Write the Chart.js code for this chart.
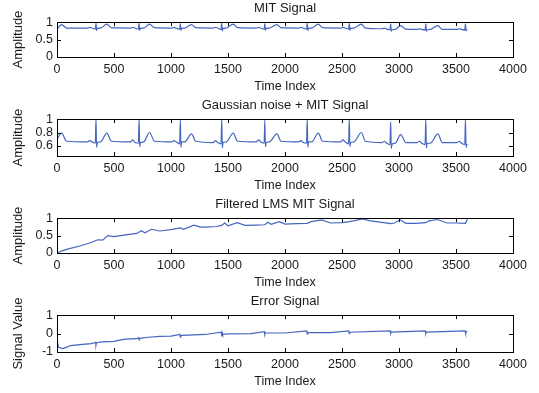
<!DOCTYPE html>
<html>
<head>
<meta charset="utf-8">
<title>LMS filtering of MIT signal</title>
<script src="https://cdn.jsdelivr.net/npm/chart.js@4.4.1/dist/chart.umd.min.js"></script>
<style>
  html, body { margin: 0; padding: 0; background: #fff; }
  #figure { position: relative; width: 539px; height: 393px; overflow: hidden; }
  #figure canvas { position: absolute; left: 0; }
</style>
</head>
<body>
<div id="figure">
  <canvas id="mitChart" width="539" height="97" style="top:0px"></canvas>
  <canvas id="noisyChart" width="539" height="99" style="top:97px"></canvas>
  <canvas id="lmsChart" width="539" height="97" style="top:196px"></canvas>
  <canvas id="errorChart" width="539" height="99" style="top:293px"></canvas>
</div>
<script>
// ---- data ----
const timeTicks = [0, 500, 1000, 1500, 2000, 2500, 3000, 3500, 4000];

// sample indices shared by the clean and the noisy ECG trace
const ecgTime = [0, 40, 85,
  267, 287, 307, 336, 342, 347, 354, 382, 437, 477,
  645, 665, 685, 714, 720, 725, 732, 760, 812, 855,
  1007, 1027, 1047, 1076, 1082, 1087, 1094, 1122, 1179, 1217,
  1370, 1390, 1410, 1439, 1445, 1450, 1457, 1485, 1545, 1585,
  1748, 1768, 1788, 1817, 1823, 1828, 1835, 1863, 1929, 1965,
  2120, 2140, 2160, 2189, 2195, 2200, 2207, 2235, 2292, 2330,
  2489, 2509, 2529, 2558, 2564, 2569, 2576, 2604, 2670, 2705,
  2852, 2872, 2892, 2921, 2927, 2932, 2939, 2967, 3014, 3060,
  3160, 3180, 3200, 3229, 3235, 3240, 3247, 3275, 3341, 3380,
  3508, 3528, 3548, 3577, 3583, 3588, 3595, 3600];

const mitSignal = [0.79, 0.93, 0.83,
  0.83, 0.85, 0.83, 0.80, 0.97, 0.76, 0.82, 0.83, 0.94, 0.84,
  0.83, 0.85, 0.83, 0.80, 0.97, 0.76, 0.82, 0.83, 0.94, 0.84,
  0.83, 0.85, 0.82, 0.80, 0.96, 0.76, 0.82, 0.83, 0.93, 0.84,
  0.83, 0.85, 0.83, 0.79, 0.97, 0.75, 0.82, 0.83, 0.94, 0.84,
  0.83, 0.85, 0.83, 0.80, 0.96, 0.76, 0.82, 0.83, 0.93, 0.84,
  0.83, 0.85, 0.83, 0.80, 0.97, 0.76, 0.82, 0.83, 0.94, 0.84,
  0.83, 0.85, 0.83, 0.80, 0.97, 0.76, 0.82, 0.83, 0.94, 0.83,
  0.81, 0.83, 0.80, 0.78, 0.95, 0.74, 0.78, 0.79, 0.90, 0.80,
  0.79, 0.81, 0.79, 0.77, 0.95, 0.74, 0.78, 0.79, 0.90, 0.79,
  0.79, 0.81, 0.79, 0.77, 0.95, 0.75, 0.78, 0.78];

const noisySignal = [0.70, 0.79, 0.67,
  0.66, 0.68, 0.66, 0.64, 1.00, 0.58, 0.65, 0.66, 0.79, 0.67,
  0.66, 0.69, 0.65, 0.64, 1.00, 0.59, 0.65, 0.66, 0.80, 0.67,
  0.66, 0.68, 0.66, 0.63, 0.99, 0.58, 0.66, 0.66, 0.78, 0.67,
  0.65, 0.68, 0.65, 0.63, 1.00, 0.57, 0.65, 0.66, 0.79, 0.67,
  0.66, 0.69, 0.66, 0.64, 0.98, 0.59, 0.65, 0.66, 0.78, 0.67,
  0.66, 0.68, 0.65, 0.64, 1.00, 0.58, 0.66, 0.66, 0.79, 0.67,
  0.66, 0.69, 0.66, 0.63, 1.00, 0.59, 0.65, 0.66, 0.80, 0.67,
  0.65, 0.67, 0.64, 0.62, 0.96, 0.56, 0.63, 0.64, 0.77, 0.65,
  0.65, 0.67, 0.64, 0.62, 0.99, 0.57, 0.64, 0.64, 0.78, 0.65,
  0.65, 0.67, 0.64, 0.62, 0.99, 0.58, 0.62, 0.63];

const lmsTime = [0, 50, 100, 200, 300, 342, 360, 400, 445, 500,
  600, 700, 740, 770, 830, 900, 1000, 1082, 1110, 1200,
  1260, 1300, 1400, 1445, 1470, 1500, 1580, 1650, 1750, 1823,
  1850, 1880, 1950, 2000, 2100, 2195, 2230, 2320, 2400, 2500,
  2564, 2600, 2680, 2750, 2850, 2927, 2960, 3010, 3060, 3150,
  3235, 3260, 3340, 3420, 3500, 3583, 3600];

const lmsSignal = [0, 0.07, 0.12, 0.2, 0.3, 0.36, 0.38, 0.37, 0.5, 0.47,
  0.52, 0.56, 0.64, 0.58, 0.68, 0.63, 0.67, 0.72, 0.68, 0.8,
  0.74, 0.74, 0.76, 0.79, 0.86, 0.78, 0.87, 0.79, 0.8, 0.81,
  0.88, 0.82, 0.9, 0.83, 0.84, 0.85, 0.9, 0.95, 0.86, 0.87,
  0.9, 0.92, 0.98, 0.92, 0.88, 0.84, 0.86, 0.95, 0.85, 0.85,
  0.87, 0.92, 0.96, 0.86, 0.86, 0.85, 0.97];

const errorTime = [0, 15, 50, 80, 120, 200, 300, 338, 342, 346,
  400, 500, 550, 600, 700, 716, 720, 724, 800, 900,
  1000, 1078, 1082, 1086, 1150, 1300, 1441, 1445, 1449, 1453,
  1500, 1700, 1819, 1823, 1827, 2000, 2191, 2195, 2199, 2400,
  2560, 2564, 2568, 2923, 2927, 2931, 3231, 3235, 3239, 3579,
  3583, 3587, 3600];

const errorSignal = [-0.4, -0.75, -0.82, -0.75, -0.65, -0.6, -0.55, -0.48, -0.62, -0.5,
  -0.45, -0.42, -0.36, -0.3, -0.28, -0.22, -0.34, -0.26, -0.2, -0.15,
  -0.14, -0.05, -0.2, -0.1, -0.08, -0.05, 0.08, -0.15, 0.05, -0.04,
  -0.02, 0.0, 0.1, -0.05, 0.03, 0.03, 0.14, -0.03, 0.06, 0.05,
  0.14, 0.0, 0.07, 0.15, 0.01, 0.08, 0.14, 0.0, 0.08, 0.15,
  0.0, 0.1, 0.1];

// ---- look ----
const FONT_FAMILY = '"Liberation Sans", Arial, Helvetica, sans-serif';
const TEXT_COLOR = '#1a1a1a';
const LINE_COLOR = '#4565be';

/**
 * Draw the matlab style frame: a full box with tick marks pointing inwards.
 */
const boxTicksPlugin = {
  id: 'boxTicks',
  afterDatasetsDraw(chart) {
    const { ctx, chartArea, scales } = chart;
    const { left, right, top, bottom } = chartArea;
    const len = 4;
    ctx.save();
    ctx.strokeStyle = '#000';
    ctx.lineWidth = 1;
    ctx.strokeRect(Math.round(left) + 0.5, Math.round(top) + 0.5, Math.round(right - left), Math.round(bottom - top));
    ctx.beginPath();
    scales.x.ticks.forEach(tick => {
      const px = Math.round(scales.x.getPixelForValue(tick.value)) + 0.5;
      ctx.moveTo(px, bottom); ctx.lineTo(px, bottom - len);
      ctx.moveTo(px, top); ctx.lineTo(px, top + len);
    });
    scales.y.ticks.forEach(tick => {
      const py = Math.round(scales.y.getPixelForValue(tick.value)) + 0.5;
      ctx.moveTo(left, py); ctx.lineTo(left + len, py);
      ctx.moveTo(right, py); ctx.lineTo(right - len, py);
    });
    ctx.stroke();
    ctx.restore();
  },
};

/**
 * Build one subplot of the figure.
 */
const createPanel = (canvasId, title, yLabel, times, values, yMin, yMax, yTicks, smooth) => {
  const points = times.map((t, i) => ({ x: t, y: values[i] }));
  return new Chart(document.getElementById(canvasId), {
    type: 'line',
    data: {
      datasets: [{
        data: points,
        borderColor: LINE_COLOR,
        borderWidth: 1.2,
        pointRadius: 0,
        cubicInterpolationMode: smooth ? 'monotone' : 'default',
        tension: 0,
        fill: false,
      }],
    },
    options: {
      responsive: false,
      animation: false,
      events: [],
      layout: { padding: { left: 0, right: 26, top: 0, bottom: 0 } },
      plugins: {
        legend: { display: false },
        tooltip: { enabled: false },
        title: {
          display: true,
          text: title,
          fullSize: false,
          color: TEXT_COLOR,
          font: { family: FONT_FAMILY, size: 13, weight: 'normal' },
          padding: { top: 1, bottom: 5.5 },
        },
      },
      scales: {
        x: {
          type: 'linear',
          min: 0,
          max: 4000,
          afterBuildTicks: scale => { scale.ticks = timeTicks.map(v => ({ value: v })); },
          afterFit: scale => { scale.height = 40; },
          grid: { display: false, drawTicks: false },
          border: { display: false },
          ticks: {
            padding: 5,
            maxRotation: 0,
            autoSkip: false,
            color: TEXT_COLOR,
            font: { family: FONT_FAMILY, size: 12.5 },
            callback: v => String(v),
          },
          title: {
            display: true,
            text: 'Time Index',
            color: TEXT_COLOR,
            font: { family: FONT_FAMILY, size: 12.5 },
            padding: { top: 0, bottom: 3 },
          },
        },
        y: {
          min: yMin,
          max: yMax,
          afterBuildTicks: scale => { scale.ticks = yTicks.map(v => ({ value: v })); },
          afterFit: scale => { scale.width = 57; },
          grid: { display: false, drawTicks: false },
          border: { display: false },
          ticks: {
            padding: 4,
            autoSkip: false,
            color: TEXT_COLOR,
            font: { family: FONT_FAMILY, size: 12.5 },
            callback: v => String(v),
          },
          title: {
            display: true,
            text: yLabel,
            color: TEXT_COLOR,
            font: { family: FONT_FAMILY, size: 13 },
            padding: { top: 11, bottom: 0 },
          },
        },
      },
    },
    plugins: [boxTicksPlugin],
  });
};

window.onload = () => {
  createPanel('mitChart', 'MIT Signal', 'Amplitude', ecgTime, mitSignal, 0, 1, [0, 0.5, 1], true);
  createPanel('noisyChart', 'Gaussian noise + MIT Signal', 'Amplitude', ecgTime, noisySignal, 0.45, 1, [0.6, 0.8, 1], true);
  createPanel('lmsChart', 'Filtered LMS MIT Signal', 'Amplitude', lmsTime, lmsSignal, 0, 1, [0, 0.5, 1], false);
  createPanel('errorChart', 'Error Signal', 'Signal Value', errorTime, errorSignal, -1, 1, [-1, 0, 1], false);
};
</script>
</body>
</html>
